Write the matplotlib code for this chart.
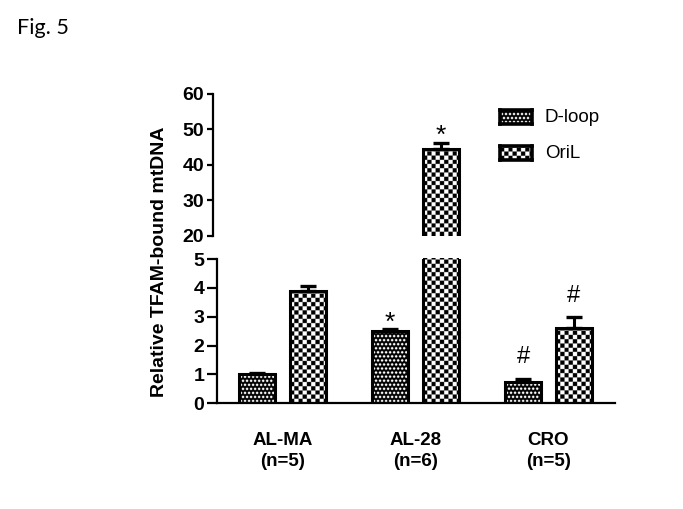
#!/usr/bin/env python3
"""Fig. 5: relative TFAM-bound mtDNA (D-loop / OriL), broken y axis, GraphPad-like styling."""
import numpy as np
import matplotlib
matplotlib.use("Agg")
import matplotlib.pyplot as plt

plt.rcParams.update({"font.family": ["Liberation Sans", "DejaVu Sans"]})

groups = ["AL-MA\n(n=5)", "AL-28\n(n=6)", "CRO\n(n=5)"]
dloop_mean = [1.0, 2.5, 0.75]
dloop_sem = [0.05, 0.06, 0.10]
oril_mean = [3.88, 44.4, 2.6]
oril_sem = [0.17, 1.7, 0.38]
dloop_marks = ["", "*", "#"]
oril_marks = ["", "*", "#"]
series = [("D-loop", dloop_mean, dloop_sem, dloop_marks, "dots", -0.19),
          ("OriL", oril_mean, oril_sem, oril_marks, "checker", 0.19)]

W, H, DPI = 683, 509, 100
UNIT = 133.0            # px per group
X0, XR = 282.5, 615     # first group centre, axis right end (px)
BW = 0.27


def pattern(kind, w, h, s=4):
    nx, ny = max(int(w * s), 1), max(int(h * s), 1)
    X, Y = np.meshgrid((np.arange(nx) + 0.5) / s, (np.arange(ny) + 0.5) / s)
    if kind == "checker":
        c = 4.2
        return ((X // c + Y // c) % 2).astype(float)
    p, r = 4.0, 1.2
    shift = (Y // p % 2) * p / 2
    dx, dy = (X + shift) % p - p / 2, Y % p - p / 2
    return (dx ** 2 + dy ** 2 < r ** 2).astype(float)


def fill(ax, bar, kind):
    ylo, yhi = ax.get_ylim()
    x0, x1 = bar.get_x(), bar.get_x() + bar.get_width()
    y0, y1 = max(bar.get_y(), ylo), min(bar.get_y() + bar.get_height(), yhi)
    if y1 <= y0:
        return
    (a, b), (c, d) = ax.transData.transform([(x0, y0), (x1, y1)])
    im = ax.imshow(pattern(kind, c - a, d - b), extent=(x0, x1, y0, y1), origin="lower",
                   cmap="gray", vmin=0, vmax=1, aspect="auto",
                   interpolation="antialiased", zorder=1)
    im.set_clip_path(bar)


fig = plt.figure(figsize=(W / DPI, H / DPI), dpi=DPI)
fig.text(17 / W, 1 - 28 / H, "Fig. 5", fontsize=15.5, family=["Lato", "DejaVu Sans"],
         va="center", ha="left")

def make_axes(left_px, top_px, bot_px, ylim, ticks, ticklen):
    ax = fig.add_axes([left_px / W, 1 - bot_px / H, (XR - left_px) / W, (bot_px - top_px) / H])
    ax.set_xlim(-(X0 - left_px) / UNIT, 2 + (XR - X0 - 2 * UNIT) / UNIT)
    ax.set_ylim(*ylim)
    ax.set_yticks(ticks)
    for sp in ("top", "right"):
        ax.spines[sp].set_visible(False)
    for sp in ax.spines.values():
        sp.set_linewidth(1.6)
    ax.tick_params(axis="y", length=ticklen, width=1.6, pad=2, labelsize=14)
    for t in ax.get_yticklabels():
        t.set_fontweight("bold")
    return ax

ax_hi = make_axes(213, 94, 235.7, (20, 60), [20, 30, 40, 50, 60], 4.5)
ax_hi.spines["bottom"].set_visible(False)
ax_hi.set_xticks([])
ax_lo = make_axes(217, 259, 403.3, (0, 5), [0, 1, 2, 3, 4, 5], 7)
ax_lo.set_xticks(np.arange(len(groups)))
ax_lo.set_xticklabels(groups, fontsize=13.5, fontweight="bold", linespacing=1.25)
ax_lo.tick_params(axis="x", length=0, pad=21)

x = np.arange(len(groups))
for name, mean, sem, marks, kind, off in series:
    for ax in (ax_hi, ax_lo):
        bars = ax.bar(x + off, mean, BW, facecolor="none", edgecolor="black",
                      linewidth=2.2, zorder=2)
        for b in bars:
            fill(ax, b, kind)
        ax.errorbar(x + off, mean, yerr=[np.zeros(len(sem)), sem], fmt="none",
                    ecolor="black", elinewidth=2.2, capsize=6, capthick=2.4, zorder=3)
        ylo, yhi = ax.get_ylim()
        for xi, m, e, mk in zip(x + off, mean, sem, marks):
            if mk and ylo < m + e < yhi:
                dy, fs = (0, 19) if mk == "*" else (11, 17)
                ax.annotate(mk, (xi, m + e), xytext=(0, dy), textcoords="offset points",
                            ha="center", va="baseline", fontsize=fs)

fig.text(160 / W, 1 - 262 / H, "Relative TFAM-bound mtDNA", rotation=90, fontsize=14,
         fontweight="bold", ha="center", va="center")

# legend swatches
for i, (name, *_rest) in enumerate(series):
    kind = _rest[3]
    top = 110 + 36 * i
    lax = fig.add_axes([500 / W, 1 - (top + 14) / H, 32 / W, 14 / H])
    lax.imshow(pattern(kind, 32, 14), cmap="gray", vmin=0, vmax=1, aspect="auto",
               interpolation="antialiased", origin="lower")
    lax.set_xticks([]); lax.set_yticks([])
    for sp in lax.spines.values():
        sp.set_linewidth(2.6)
    fig.text(545 / W, 1 - (top + 7) / H, name, fontsize=13.5, va="center", ha="left")

fig.savefig("out.png", dpi=DPI, facecolor="white")
plt.close(fig)
